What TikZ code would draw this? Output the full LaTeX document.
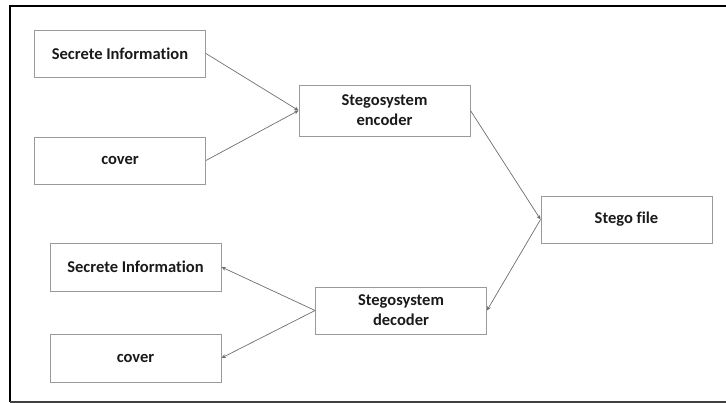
\documentclass[tikz,border=0pt]{standalone}
\usepackage{fontspec}
\setmainfont{Carlito}[Ligatures=NoCommon]
\usetikzlibrary{arrows.meta}
\definecolor{boxline}{HTML}{9A9A9A}
\definecolor{wire}{HTML}{6E6E6E}
\definecolor{ink}{HTML}{1A1A1A}
\tikzset{
  block/.style={draw=boxline, line width=0.9pt, fill=white, inner sep=0pt,
    minimum width=171pt, minimum height=47pt, align=center,
    font=\fontsize{16.5}{20}\selectfont\bfseries, text=ink},
  flow/.style={draw=wire, line width=0.7pt,
    -{Stealth[length=4.5pt,width=4pt]}},
}
\begin{document}
\begin{tikzpicture}[x=1pt, y=-1pt]
  \useasboundingbox (0,0) rectangle (726,403);
  % frame (open on the right)
  \draw[black, line width=1.8pt] (760,6) -- (10,6) -- (10,402);
  \draw[black!75, line width=1.6pt] (10,402) -- (760,402);

  % encoding side
  \node[block] (si1) at (120,53.5) {Secrete Information};
  \node[block] (cv1) at (120,160.5) {cover};
  \node[block, minimum height=51pt] (enc) at (384.5,110.5) {Stegosystem\\encoder};

  % stego file
  \node[block] (sf) at (626.5,219.5) {Stego file};

  % decoding side
  \node[block] (dec) at (401,310.5) {Stegosystem\\decoder};
  \node[block, minimum height=48pt] (si2) at (135.5,267) {Secrete Information};
  \node[block, minimum height=48pt] (cv2) at (135.5,358) {cover};

  % connectors
  \draw[flow] (si1.east) -- (enc.west);
  \draw[flow] (cv1.east) -- (enc.west);
  \draw[flow] (enc.east) -- (sf.west);
  \draw[flow] (sf.west) -- (dec.east);
  \draw[flow] (dec.west) -- (si2.east);
  \draw[flow] (dec.west) -- (cv2.east);
\end{tikzpicture}
\end{document}
